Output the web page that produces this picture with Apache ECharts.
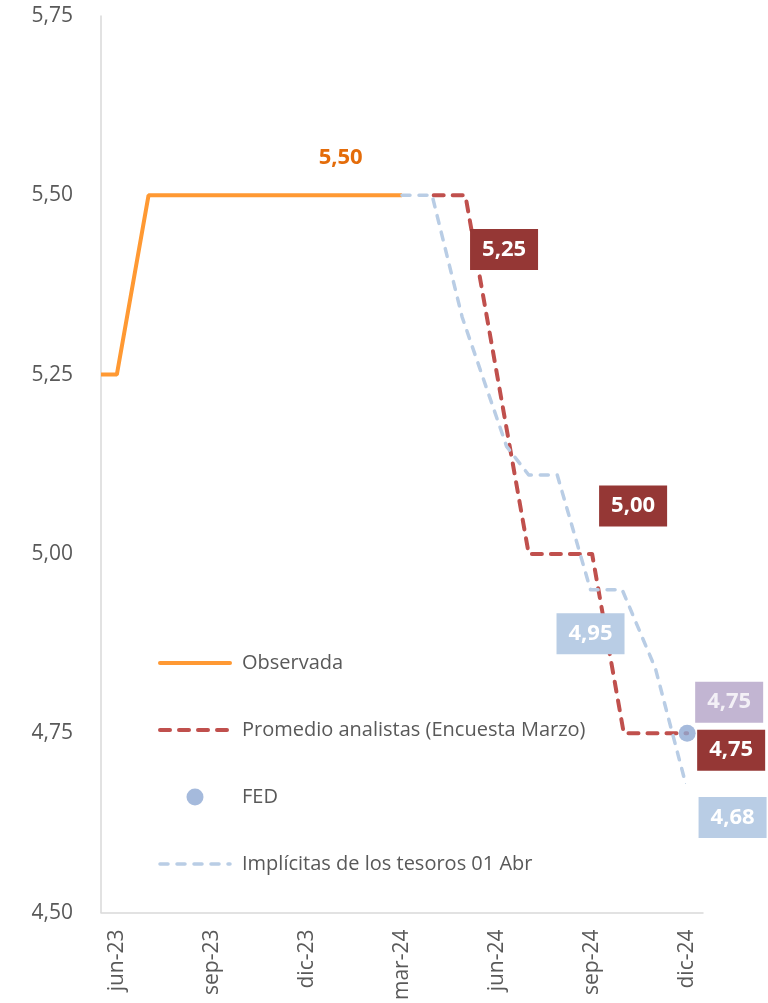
<!DOCTYPE html>
<html>
<head>
<meta charset="utf-8">
<script src="https://cdn.jsdelivr.net/npm/echarts@6/dist/echarts.min.js"></script>
<style>
  html, body { margin: 0; padding: 0; background: #fff; }
  #chart { width: 768px; height: 1003px; }
</style>
</head>
<body>
<div id="chart"></div>
<script>
  // categorías del eje x (meses)
  const months = ['jun-23', 'jul-23', 'ago-23', 'sep-23', 'oct-23', 'nov-23', 'dic-23', 'ene-24', 'feb-24',
    'mar-24', 'abr-24', 'may-24', 'jun-24', 'jul-24', 'ago-24', 'sep-24', 'oct-24', 'nov-24', 'dic-24'];
  const yTicks = [4.50, 4.75, 5.00, 5.25, 5.50, 5.75];

  // posición en meses desde jun-23
  const obsX = [-0.5, 0, 1, 2, 3, 4, 5, 6, 7, 8, 9];
  const obsY = [5.25, 5.25, 5.50, 5.50, 5.50, 5.50, 5.50, 5.50, 5.50, 5.50, 5.50];

  const analystX = [10, 11, 12, 13, 14, 15, 16, 17, 18];
  const analystY = [5.50, 5.50, 5.25, 5.00, 5.00, 5.00, 4.75, 4.75, 4.75];

  const impliedX = [9, 9.95, 10.9, 12.3, 13.0, 13.9, 14.95, 15.95, 17.0, 17.95];
  const impliedY = [5.50, 5.50, 5.33, 5.15, 5.11, 5.11, 4.95, 4.95, 4.84, 4.68];

  const fedX = [18];
  const fedY = [4.75];

  const fmt = v => v.toFixed(2).replace('.', ',');
  const FONT = '"Open Sans", sans-serif';

  const ORANGE = '#FF9933', RED = '#C0504D', LIGHT = '#B9CDE5', FEDC = '#8EA9D3';
  const redLine = { color: RED, width: 4, type: [10, 9], cap: 'round', join: 'round' };
  const lightLine = { color: LIGHT, width: 3.5, type: [8, 9], cap: 'round', join: 'round' };
  const orangeLine = { color: ORANGE, width: 4, cap: 'round' };

  // etiqueta con caja
  function boxLabel(bg, offset) {
    return {
      show: true, position: 'inside', offset: offset,
      formatter: p => fmt(p.value[1]),
      color: '#fff', fontFamily: FONT, fontWeight: 'bold', fontSize: 22, lineHeight: 25,
      backgroundColor: bg, padding: [8, 12]
    };
  }

  // puntos con etiqueta: indice -> etiqueta
  function buildData(xs, ys, labels, color) {
    return xs.map((x, i) => {
      if (labels[i]) {
        return { value: [x, ys[i]], symbol: 'circle', symbolSize: 1, itemStyle: { color: color }, label: labels[i] };
      }
      return [x, ys[i]];
    });
  }

  const obsLabels = {
    8: {
      show: true, position: 'inside', offset: [2, -38],
      formatter: p => fmt(p.value[1]),
      color: '#E46C0A', fontFamily: FONT, fontWeight: 'bold', fontSize: 22
    }
  };
  const analystLabels = {
    2: boxLabel('#953735', [7, -125]),
    5: boxLabel('#953735', [41, -48]),
    8: boxLabel('#953735', [44, 17])
  };
  const impliedLabels = {
    6: boxLabel(LIGHT, [0, 44]),
    9: boxLabel(LIGHT, [47, 34])
  };
  const fedLabels = {
    0: boxLabel('#B3A2C7', [42, -31])
  };

  const chart = echarts.init(document.getElementById('chart'));
  chart.setOption({
    animation: false,
    backgroundColor: '#fff',
    grid: { left: 101, right: 65, top: 16, bottom: 87, containLabel: false },
    legend: {
      orient: 'vertical', left: 158, top: 653, padding: 0,
      itemWidth: 70, itemHeight: 17, itemGap: 47,
      data: [
        { name: 'Observada', itemStyle: { opacity: 0 }, lineStyle: orangeLine },
        { name: 'Promedio analistas (Encuesta Marzo)', itemStyle: { opacity: 0 }, lineStyle: redLine },
        { name: 'FED' },
        { name: 'Implícitas de los tesoros 01 Abr', itemStyle: { opacity: 0 }, lineStyle: lightLine }
      ],
      textStyle: { fontFamily: FONT, fontSize: 20, lineHeight: 20, color: '#595959', padding: [0, 0, 0, 7] }
    },
    xAxis: [{
      type: 'category', data: months, boundaryGap: true,
      axisLine: { lineStyle: { color: '#D9D9D9', width: 1.5 } },
      axisTick: { show: false },
      axisLabel: { interval: 2, rotate: 90, margin: 17, fontFamily: FONT, fontSize: 21, color: '#595959' },
      splitLine: { show: false }
    }, {
      type: 'value', min: -0.5, max: 18.5, show: false
    }],
    yAxis: {
      type: 'value', min: yTicks[0], max: yTicks[yTicks.length - 1], interval: 0.25,
      axisLine: { show: true, onZero: false, lineStyle: { color: '#D9D9D9', width: 1.5 } },
      axisTick: { show: false },
      splitLine: { show: false },
      axisLabel: { margin: 28, formatter: v => fmt(v), fontFamily: FONT, fontSize: 21, color: '#595959' }
    },
    series: [{
      name: 'Observada', type: 'line', xAxisIndex: 1,
      data: buildData(obsX, obsY, obsLabels, ORANGE),
      symbol: 'none', color: ORANGE,
      lineStyle: { color: ORANGE, width: 4 }, z: 2
    }, {
      name: 'Promedio analistas (Encuesta Marzo)', type: 'line', xAxisIndex: 1,
      data: buildData(analystX, analystY, analystLabels, RED),
      symbol: 'none', color: RED,
      lineStyle: redLine, z: 3
    }, {
      name: 'Implícitas de los tesoros 01 Abr', type: 'line', xAxisIndex: 1,
      data: buildData(impliedX, impliedY, impliedLabels, LIGHT),
      symbol: 'none', color: LIGHT,
      lineStyle: lightLine, z: 4
    }, {
      name: 'FED', type: 'scatter', xAxisIndex: 1,
      data: fedX.map((x, i) => ({ value: [x, fedY[i]], label: fedLabels[i] })),
      symbol: 'circle', symbolSize: 17,
      itemStyle: { color: FEDC }, z: 5
    }]
  });
</script>
</body>
</html>
